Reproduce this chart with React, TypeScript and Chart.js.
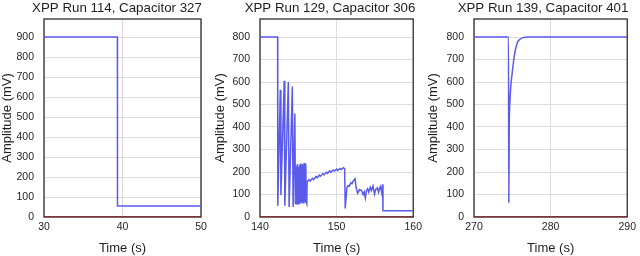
import React, { useEffect, useRef } from "react";
import { Chart, registerables } from "chart.js";

Chart.register(...registerables);

// ---------- data ----------
const titles = [
  "XPP Run 114, Capacitor 327",
  "XPP Run 129, Capacitor 306",
  "XPP Run 139, Capacitor 401",
];

const run114Times = [30, 39.35, 39.36, 50];
const run114Values = [900, 900, 55, 55];
const run114XTicks = [30, 40, 50];
const run114YTicks = [0, 100, 200, 300, 400, 500, 600, 700, 800, 900];
const run114YMax = 990;

const run129Times = [
  140, 142.3, 142.32, 142.65, 142.73, 143.16, 143.24, 143.7, 143.8, 144.22,
  144.32, 144.55, 144.62, 144.68, 144.74, 144.8, 144.86, 144.92, 144.98, 145.04,
  145.1, 145.16, 145.22, 145.28, 145.34, 145.4, 145.46, 145.52, 145.58, 145.64,
  145.7, 145.76, 145.82, 145.88, 145.94, 146.0, 146.06, 146.1, 146.15, 146.4,
  146.55, 146.85, 147.0, 147.3, 147.45, 147.75, 147.9, 148.2, 148.35, 148.65,
  148.8, 149.1, 149.25, 149.55, 149.7, 150.0, 150.15, 150.45, 150.6, 150.9,
  151.05, 151.12, 151.35, 151.5, 151.65, 151.85, 152.0, 152.2, 152.4, 152.55,
  152.75, 153.0, 153.25, 153.45, 153.6, 153.75, 153.9, 154.05, 154.2, 154.4,
  154.55, 154.75, 154.95, 155.1, 155.3, 155.47, 155.6, 155.73, 155.9, 156.0,
  156.05, 160,
];
const run129Values = [
  800, 800, 50, 565, 98, 605, 50, 600, 45, 580,
  45, 460, 60, 232, 62, 225, 58, 236, 64, 222,
  60, 230, 62, 238, 66, 226, 60, 234, 64, 228,
  60, 240, 66, 232, 62, 238, 64, 60, 155, 166,
  160, 172, 166, 180, 174, 186, 181, 193, 187, 199,
  194, 205, 199, 209, 204, 213, 207, 216, 211, 219,
  214, 38, 132, 140, 136, 152, 148, 162, 170, 130,
  106, 122, 118, 100, 112, 84, 118, 126, 110, 132,
  118, 138, 102, 122, 130, 110, 128, 136, 106, 145,
  28, 28,
];
const run129XTicks = [140, 150, 160];
const run129YTicks = [0, 100, 200, 300, 400, 500, 600, 700, 800];
const run129YMax = 880;

const run139Times = [
  270, 274.5, 274.54, 274.6, 274.7, 274.8, 274.95, 275.1, 275.26, 275.45,
  275.69, 276.0, 276.32, 277, 290,
];
const run139Values = [
  800, 800, 65, 400, 520, 580, 630, 675, 715, 750,
  777, 790, 796, 800, 800,
];
const run139XTicks = [270, 280, 290];
const run139YTicks = [0, 100, 200, 300, 400, 500, 600, 700, 800];
const run139YMax = 880;

const zeroValues = [0, 0];

// ---------- styling ----------
const FONT = '"Liberation Sans", Arial, Helvetica, sans-serif';
const BLUE = "#5a5aeb";
const RED = "#8e1b1b";
const GRID = "#dcdcdc";
const FRAME = "#3c3c3c";
const TEXT = "#1e1e1e";

type PanelProps = {
  title: string;
  times: number[];
  values: number[];
  xTicks: number[];
  yTicks: number[];
  yMax: number;
  left: number;
  width: number;
  yAxisWidth: number;
  rightPad: number;
  midGrid: string;
  smooth: boolean;
};

function Panel(p: PanelProps) {
  const ref = useRef<HTMLCanvasElement | null>(null);

  useEffect(() => {
    if (!ref.current) return;
    const xMin = p.xTicks[0];
    const xMax = p.xTicks[p.xTicks.length - 1];
    const xMid = p.xTicks[1];
    const signal = p.times.map((t, i) => ({ x: t, y: p.values[i] }));
    const zero = [xMin, xMax].map((t, i) => ({ x: t, y: zeroValues[i] }));

    const framePlugin = {
      id: "frame",
      beforeDatasetsDraw(chart: any) {
        const { ctx, chartArea } = chart;
        ctx.save();
        ctx.strokeStyle = FRAME;
        ctx.lineWidth = 1.4;
        ctx.strokeRect(
          chartArea.left,
          chartArea.top,
          chartArea.right - chartArea.left,
          chartArea.bottom - chartArea.top
        );
        ctx.restore();
      },
    };

    const titlePlugin = {
      id: "panelTitle",
      afterDraw(chart: any) {
        const { ctx } = chart;
        ctx.save();
        ctx.font = `13.3px ${FONT}`;
        ctx.fillStyle = TEXT;
        ctx.textAlign = "center";
        ctx.textBaseline = "alphabetic";
        ctx.fillText(p.title, 117, 12);
        ctx.restore();
      },
    };

    const chart = new Chart(ref.current, {
      type: "line",
      data: {
        datasets: [
          {
            data: zero,
            borderColor: RED,
            borderWidth: 1.6,
            pointRadius: 0,
            fill: false,
          },
          {
            data: signal,
            borderColor: BLUE,
            borderWidth: 1.5,
            pointRadius: 0,
            fill: false,
            tension: 0,
            cubicInterpolationMode: p.smooth ? "monotone" : "default",
          },
        ],
      },
      options: {
        animation: false,
        responsive: false,
        events: [],
        layout: { padding: { top: 19, right: p.rightPad, bottom: 0, left: 0 } },
        plugins: {
          legend: { display: false },
          tooltip: { enabled: false },
          title: { display: false },
        },
        scales: {
          x: {
            type: "linear",
            min: xMin,
            max: xMax,
            afterBuildTicks: (s: any) => {
              s.ticks = p.xTicks.map((v) => ({ value: v }));
            },
            afterFit: (s: any) => {
              s.height = 39;
            },
            border: { display: false },
            grid: {
              drawTicks: false,
              color: (c: any) => (c.tick && c.tick.value === xMid ? p.midGrid : GRID),
              lineWidth: 1,
            },
            ticks: {
              padding: 4,
              color: TEXT,
              font: { family: FONT, size: 10.5 },
              maxRotation: 0,
              callback: (v: any) => String(v),
            },
            title: {
              display: true,
              text: "Time (s)",
              color: TEXT,
              font: { family: FONT, size: 13 },
              padding: { top: 3, bottom: 0 },
            },
          },
          y: {
            type: "linear",
            min: 0,
            max: p.yMax,
            afterBuildTicks: (s: any) => {
              s.ticks = p.yTicks.map((v) => ({ value: v }));
            },
            afterFit: (s: any) => {
              s.width = p.yAxisWidth;
            },
            border: { display: false },
            grid: { drawTicks: false, color: GRID, lineWidth: 1 },
            ticks: {
              padding: 10,
              color: TEXT,
              font: { family: FONT, size: 10.5 },
              callback: (v: any) => String(v),
            },
            title: {
              display: true,
              text: "Amplitude (mV)",
              color: TEXT,
              font: { family: FONT, size: 13 },
              padding: { top: 0, bottom: 0 },
            },
          },
        },
      },
      plugins: [framePlugin, titlePlugin],
    });
    return () => chart.destroy();
  }, []);

  return (
    <div
      style={{
        position: "absolute",
        left: p.left,
        top: 0,
        width: p.width,
        height: 256,
      }}
    >
      <canvas
        ref={ref}
        width={p.width}
        height={256}
        style={{ width: p.width, height: 256, display: "block" }}
      />
    </div>
  );
}

export default function App() {
  return (
    <div
      style={{
        position: "fixed",
        left: 0,
        top: 0,
        width: 640,
        height: 256,
        background: "#ffffff",
        overflow: "hidden",
      }}
    >
      <Panel
        title={titles[0]}
        times={run114Times}
        values={run114Values}
        xTicks={run114XTicks}
        yTicks={run114YTicks}
        yMax={run114YMax}
        left={0}
        width={213}
        yAxisWidth={44}
        rightPad={12}
        midGrid="#e6cfe0"
        smooth={false}
      />
      <Panel
        title={titles[1]}
        times={run129Times}
        values={run129Values}
        xTicks={run129XTicks}
        yTicks={run129YTicks}
        yMax={run129YMax}
        left={213}
        width={213}
        yAxisWidth={47}
        rightPad={10}
        midGrid={GRID}
        smooth={false}
      />
      <Panel
        title={titles[2]}
        times={run139Times}
        values={run139Values}
        xTicks={run139XTicks}
        yTicks={run139YTicks}
        yMax={run139YMax}
        left={426}
        width={214}
        yAxisWidth={48}
        rightPad={10}
        midGrid={GRID}
        smooth={true}
      />
    </div>
  );
}
